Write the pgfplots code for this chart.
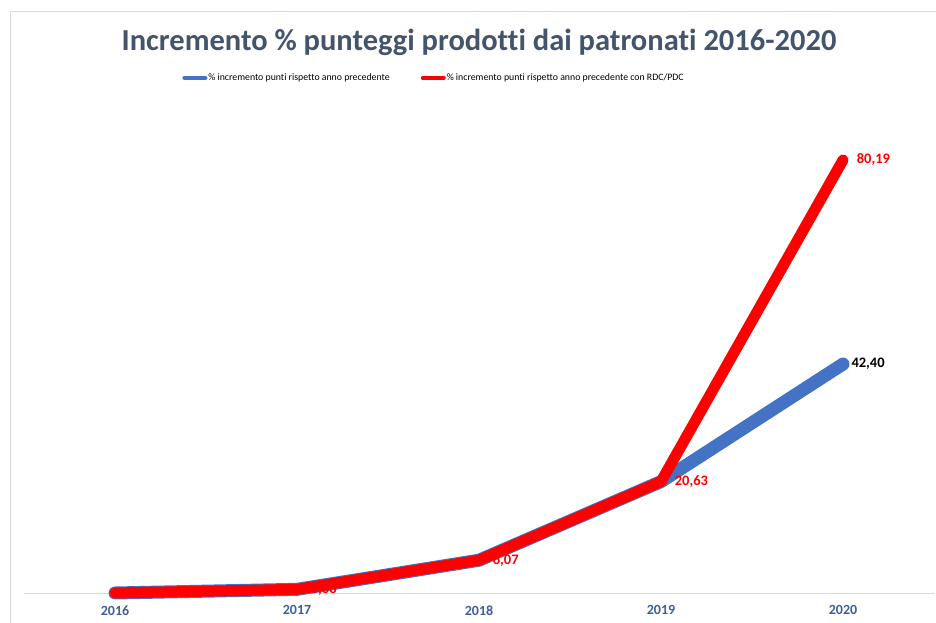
\documentclass[border=0pt]{standalone}
\usepackage{pgfplots}
\pgfplotsset{compat=1.18}
\usepackage{fontspec}
\setmainfont[Ligatures=NoCommon]{Carlito}
\definecolor{titlecol}{HTML}{44546A}
\definecolor{tickcol}{HTML}{3F5E9E}
\definecolor{blueline}{HTML}{4472C4}
\definecolor{redline}{HTML}{FF0000}
\definecolor{gridgray}{HTML}{D9D9D9}
\begin{document}
\begin{tikzpicture}
\useasboundingbox (0pt,0pt) rectangle (936pt,623pt);
\fill[white] (0pt,0pt) rectangle (936pt,623pt);
\draw[gridgray, line width=1pt] (10pt,0pt) -- (10pt,611pt) -- (936pt,611pt);
\node[font=\fontsize{30.5}{34}\selectfont\bfseries, text=titlecol] at (479pt,581pt) {Incremento \% punteggi prodotti dai patronati 2016-2020};
\begin{axis}[
  at={(24pt,30pt)}, anchor=south west,
  scale only axis, width=910pt, height=486pt,
  xmin=-0.5, xmax=4.5, ymin=0, ymax=90,
  axis x line=bottom, axis y line=none, ytick=\empty,
  x axis line style={draw=gridgray, line width=1pt, -},
  xtick={0,1,2,3,4}, xticklabels={2016,2017,2018,2019,2020},
  major tick length=0pt,
  xticklabel style={font=\fontsize{14}{16}\selectfont\bfseries, text=tickcol, yshift=-9pt},
  clip=false,
  legend columns=2,
  legend style={at={(0.45,1.06)}, anchor=center, draw=none, fill=none,
    font=\fontsize{9.8}{11}\selectfont,
    /tikz/every even column/.append style={column sep=30pt},
    nodes={inner sep=1pt}},
  legend image code/.code={\draw[#1, line width=4pt, line cap=round] (0pt,0pt) -- (21pt,0pt);},
  nodes near coords={\pgfmathprintnumber[fixed,fixed zerofill,precision=2,use comma,assume math mode=true]{\pgfplotspointmeta}},
  point meta=y,
  every node near coord/.append style={anchor=west, xshift=5pt, yshift=0pt, font=\fontsize{14.5}{16}\selectfont\bfseries},
]
\addplot[blueline, line width=13pt, line join=round, line cap=round, nodes near coords={}] coordinates {
(0,0) (1,0.68) (2,6.07) (3,20.63) (4,42.40)};
\addlegendentry{\% incremento punti rispetto anno precedente}
\addplot[redline, line width=11pt, line join=round, line cap=round, every node near coord/.append style={text=redline}] coordinates {
(0,0) (1,0.68) (2,6.07) (3,20.63) (4,80.19)};
\addlegendentry{\% incremento punti rispetto anno precedente con RDC/PDC}
\addplot[draw=none, forget plot, every node near coord/.append style={text=black}] coordinates {(4,42.40)};
\end{axis}
\end{tikzpicture}
\end{document}
